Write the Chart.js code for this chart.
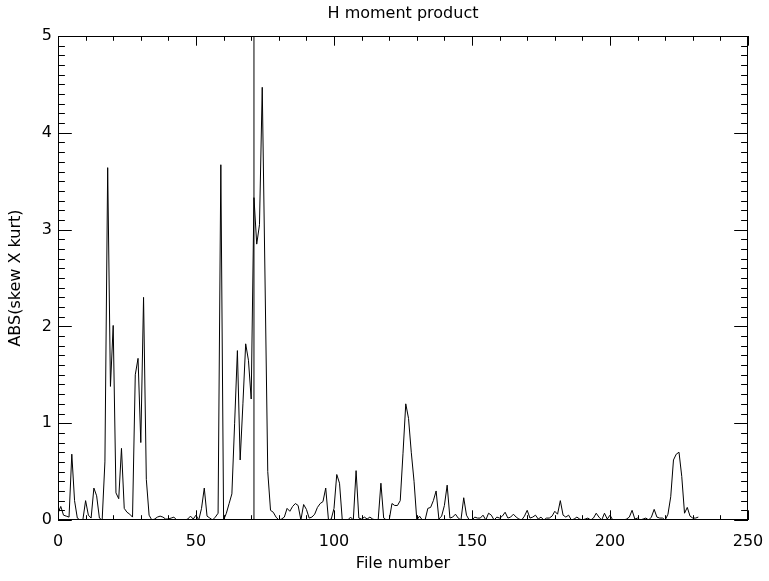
<!DOCTYPE html>
<html>
<head>
<meta charset="utf-8">
<script src="https://cdn.jsdelivr.net/npm/chart.js@4"></script>
<style>
  html, body { margin: 0; padding: 0; background: #fff; }
  #chart { display: block; }
</style>
</head>
<body>
<canvas id="chart" width="769" height="581"></canvas>
<script>
// ABS(skew X kurt) per file number (files 0..232)
const absSkewKurt = [
  0.07, 0.14, 0.05, 0.04, 0.03, 0.68, 0.20, 0.02, 0.00, 0.00,
  0.20, 0.05, 0.02, 0.33, 0.25, 0.02, 0.00, 0.60, 3.64, 1.38,
  2.01, 0.28, 0.22, 0.74, 0.12, 0.08, 0.06, 0.03, 1.50, 1.67,
  0.80, 2.30, 0.42, 0.05, 0.00, 0.01, 0.03, 0.04, 0.03, 0.01,
  0.01, 0.02, 0.03, 0.00, 0.00, 0.00, 0.00, 0.01, 0.04, 0.01,
  0.05, 0.00, 0.12, 0.33, 0.04, 0.02, 0.00, 0.03, 0.07, 3.67,
  0.00, 0.07, 0.17, 0.27, 1.00, 1.75, 0.62, 1.20, 1.82, 1.65,
  1.25, 3.33, 2.85, 3.05, 4.47, 2.50, 0.50, 0.10, 0.08, 0.03,
  0.00, 0.01, 0.03, 0.12, 0.09, 0.14, 0.17, 0.15, 0.00, 0.16,
  0.11, 0.02, 0.03, 0.06, 0.13, 0.17, 0.19, 0.33, 0.00, 0.01,
  0.12, 0.47, 0.38, 0.00, 0.00, 0.00, 0.03, 0.00, 0.51, 0.02,
  0.01, 0.03, 0.01, 0.03, 0.01, 0.00, 0.00, 0.38, 0.02, 0.00,
  0.00, 0.17, 0.15, 0.15, 0.20, 0.69, 1.20, 1.05, 0.70, 0.40,
  0.00, 0.04, 0.00, 0.00, 0.12, 0.13, 0.20, 0.30, 0.01, 0.04,
  0.15, 0.36, 0.02, 0.03, 0.06, 0.02, 0.00, 0.23, 0.05, 0.00,
  0.00, 0.03, 0.02, 0.02, 0.05, 0.00, 0.07, 0.05, 0.00, 0.03,
  0.02, 0.04, 0.08, 0.02, 0.03, 0.06, 0.03, 0.01, 0.00, 0.04,
  0.10, 0.02, 0.03, 0.05, 0.01, 0.03, 0.00, 0.02, 0.02, 0.04,
  0.09, 0.06, 0.20, 0.05, 0.03, 0.05, 0.00, 0.01, 0.03, 0.01,
  0.00, 0.01, 0.02, 0.00, 0.02, 0.07, 0.03, 0.00, 0.07, 0.01,
  0.05, 0.00, 0.00, 0.00, 0.00, 0.00, 0.01, 0.03, 0.10, 0.01,
  0.02, 0.00, 0.01, 0.02, 0.00, 0.03, 0.11, 0.03, 0.02, 0.02,
  0.00, 0.06, 0.24, 0.62, 0.68, 0.70, 0.45, 0.07, 0.13, 0.04,
  0.02, 0.02, 0.03
];

// vertical marker line at this file number
const markerFile = 71;

const xTicks = [0, 50, 100, 150, 200, 250];
const yTicks = [0, 1, 2, 3, 4, 5];

const FONT = "'DejaVu Sans', sans-serif";

const seriesPoints = absSkewKurt.map((v, i) => ({ x: i, y: v }));
const markerPoints = [{ x: markerFile, y: yTicks[0] }, { x: markerFile, y: yTicks[yTicks.length - 1] }];

// IDL style box with inward ticks on all four sides
const idlAxes = {
  id: 'idlAxes',
  afterDatasetsDraw(chart) {
    const { ctx, chartArea: a, scales } = chart;
    const xs = scales.x, ys = scales.y;
    ctx.save();
    ctx.strokeStyle = '#000';
    ctx.lineWidth = 1;
    ctx.strokeRect(Math.round(a.left) + 0.5, Math.round(a.top) + 0.5,
                   Math.round(a.right - a.left) - 1, Math.round(a.bottom - a.top) - 1);
    ctx.beginPath();
    xs.ticks.forEach(t => {
      const px = Math.round(xs.getPixelForValue(t.value)) + 0.5;
      const len = xTicks.includes(t.value) ? 9.7 : 4.8;
      ctx.moveTo(px, a.bottom); ctx.lineTo(px, a.bottom - len);
      ctx.moveTo(px, a.top); ctx.lineTo(px, a.top + len);
    });
    ys.ticks.forEach(t => {
      const py = Math.round(ys.getPixelForValue(t.value)) + 0.5;
      const major = Math.abs(t.value - Math.round(t.value)) < 1e-6;
      const len = major ? 13.8 : 6.9;
      ctx.moveTo(a.left, py); ctx.lineTo(a.left + len, py);
      ctx.moveTo(a.right, py); ctx.lineTo(a.right - len, py);
    });
    ctx.stroke();
    ctx.restore();
  }
};

new Chart(document.getElementById('chart'), {
  type: 'line',
  data: {
    datasets: [
      {
        data: seriesPoints,
        borderColor: '#000',
        borderWidth: 1,
        pointRadius: 0,
        tension: 0
      },
      {
        data: markerPoints,
        borderColor: '#000',
        borderWidth: 1,
        pointRadius: 0
      }
    ]
  },
  options: {
    responsive: false,
    animation: false,
    events: [],
    layout: { padding: { left: 0, right: 21, top: 0, bottom: 0 } },
    plugins: {
      legend: { display: false },
      tooltip: { enabled: false },
      title: { display: false }
    },
    scales: {
      // top axis only carries the plot title, centred over the plot box
      top: {
        type: 'linear',
        position: 'top',
        axis: 'x',
        min: xTicks[0],
        max: xTicks[xTicks.length - 1],
        grid: { display: false, drawTicks: false },
        border: { display: false },
        ticks: { display: false },
        afterFit: s => { s.height = 36; s.paddingLeft = 0; s.paddingRight = 0; },
        title: {
          display: true,
          text: 'H moment product',
          color: '#000',
          font: { family: FONT, size: 16 },
          padding: { top: 4, bottom: 0 }
        }
      },
      x: {
        type: 'linear',
        min: xTicks[0],
        max: xTicks[xTicks.length - 1],
        grid: { display: false, drawTicks: false },
        border: { display: false },
        afterFit: s => { s.height = 61; s.paddingLeft = 0; s.paddingRight = 0; },
        ticks: {
          stepSize: 10,
          autoSkip: false,
          maxRotation: 0,
          padding: 12,
          color: '#000',
          font: { family: FONT, size: 16 },
          callback: v => xTicks.includes(v) ? String(v) : ''
        },
        title: {
          display: true,
          text: 'File number',
          color: '#000',
          font: { family: FONT, size: 16 },
          padding: { top: 0, bottom: 8 }
        }
      },
      y: {
        type: 'linear',
        min: yTicks[0],
        max: yTicks[yTicks.length - 1],
        grid: { display: false, drawTicks: false },
        border: { display: false },
        afterFit: s => { s.width = 58; s.paddingTop = 0; s.paddingBottom = 0; },
        ticks: {
          stepSize: 0.1,
          autoSkip: false,
          padding: 6,
          color: '#000',
          font: { family: FONT, size: 16 },
          callback: v => {
            const r = Math.round(v);
            return (Math.abs(v - r) < 1e-6 && yTicks.includes(r)) ? String(r) : '';
          }
        },
        title: {
          display: true,
          text: 'ABS(skew X kurt)',
          color: '#000',
          font: { family: FONT, size: 16 },
          padding: { top: 6, bottom: 0 }
        }
      }
    }
  },
  plugins: [idlAxes]
});
</script>
</body>
</html>
